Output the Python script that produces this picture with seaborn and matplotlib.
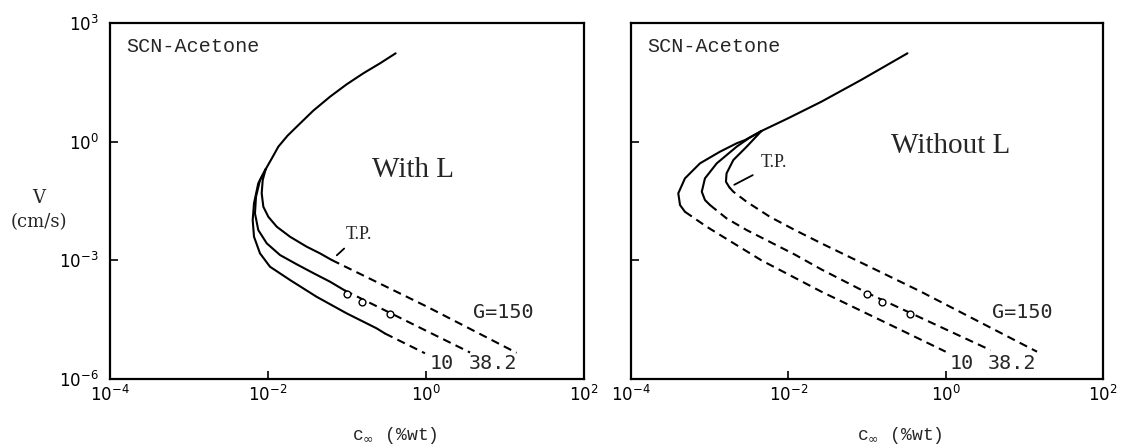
import matplotlib
matplotlib.use("Agg")
import matplotlib.pyplot as plt
from matplotlib.ticker import FixedLocator, NullLocator, LogFormatterMathtext, NullFormatter
import seaborn as sns

# ---------------- data: c_inf (%wt) vs V (cm/s) ----------------
# "With L" panel: branch shared by all gradients (absolute-stability side)
wl_upper_c = [0.413, 0.262, 0.161, 0.0991, 0.0610, 0.0374, 0.0231, 0.01758, 0.0135, 0.0112, 0.00933]
wl_upper_v = [171.4, 95.7, 53.5, 28.2, 13.7, 6.07, 2.39, 1.40, 0.745, 0.380, 0.200]

wl_g150_solid_c = [0.00933, 0.00857, 0.00832, 0.00873, 0.0101, 0.0129, 0.0190, 0.0309, 0.0455, 0.0640]
wl_g150_solid_v = [0.200, 0.107, 0.0494, 0.0226, 0.0126, 0.00708, 0.00395, 0.00221, 0.00150, 0.00102]
wl_g150_dash_c = [0.0640, 1.02, 14.0]
wl_g150_dash_v = [0.00102, 6.8e-5, 4.6e-6]

wl_g38_solid_c = [0.00933, 0.00792, 0.00705, 0.00684, 0.00753, 0.00964, 0.0142, 0.0231, 0.0372, 0.0610, 0.0933]
wl_g38_solid_v = [0.200, 0.107, 0.0406, 0.0154, 0.00583, 0.00269, 0.00136, 0.000794, 0.000479, 0.000288, 0.000174]
wl_g38_dash_c = [0.0933, 3.61]
wl_g38_dash_v = [0.000174, 4.68e-6]

wl_g10_solid_c = [0.00933, 0.00753, 0.00665, 0.00640, 0.00665, 0.00792, 0.0106, 0.0191, 0.0412, 0.0989, 0.237, 0.303]
wl_g10_solid_v = [0.200, 0.0885, 0.0276, 0.0104, 0.00395, 0.00150, 0.000689, 0.000316, 0.000120, 4.57e-5, 1.91e-5, 1.41e-5]
wl_g10_dash_c = [0.303, 0.97]
wl_g10_dash_v = [1.41e-5, 4.47e-6]

# "Without L" panel
wo_upper_c = [0.327, 0.0839, 0.0262, 0.0099, 0.00455]
wo_upper_v = [171.4, 36.2, 10.2, 3.89, 1.86]

wo_g150_solid_c = [0.00455, 0.00295, 0.00200, 0.00164, 0.00161, 0.00178]
wo_g150_solid_v = [1.86, 0.745, 0.344, 0.158, 0.0973, 0.0700]
wo_g150_dash_c = [0.00178, 0.00200, 0.00295, 0.00583, 0.0120, 0.0263, 0.483, 14.5]
wo_g150_dash_v = [0.0700, 0.0543, 0.0303, 0.0126, 0.00589, 0.00269, 0.000162, 4.9e-6]

wo_g38_solid_c = [0.00455, 0.00316, 0.00220, 0.00123, 0.000871, 0.000794, 0.000871, 0.00101]
wo_g38_solid_v = [1.86, 1.23, 0.745, 0.283, 0.118, 0.0543, 0.0335, 0.0250]
wo_g38_dash_c = [0.00101, 0.00164, 0.00295, 0.0120, 0.0263, 0.102, 3.72]
wo_g38_dash_v = [0.0250, 0.0115, 0.00583, 0.00141, 0.000589, 0.000148, 5.37e-6]

wo_g10_solid_c = [0.00455, 0.00282, 0.00220, 0.00135, 0.000753, 0.000485, 0.000399, 0.000420, 0.000485]
wo_g10_solid_v = [1.86, 1.10, 0.908, 0.557, 0.283, 0.118, 0.0494, 0.0250, 0.0169]
wo_g10_dash_c = [0.000485, 0.000916, 0.00455, 0.0262, 0.269, 1.0]
wo_g10_dash_v = [0.0169, 0.00708, 0.001, 0.000162, 1.74e-5, 4.9e-6]

# experimental points (G = 38.2)
exp_c = [0.10, 0.153, 0.35]
exp_v = [1.45e-4, 8.9e-5, 4.5e-5]

# curve labels
g_labels = ["G=150", "10", "38.2"]
g_label_c = [9.5, 1.6, 6.95]
g_label_v = [4.9e-5, 2.45e-6, 2.45e-6]

x_ticks = [1e-4, 1e-2, 1e0, 1e2]
y_ticks = [1e-6, 1e-3, 1e0, 1e3]

# ---------------- styling ----------------
sns.set_theme(style="white")
plt.rcParams["font.family"] = ["DejaVu Sans"]
plt.rcParams["mathtext.fontset"] = "dejavusans"

fig = plt.figure(figsize=(11.25, 4.48), dpi=100)
ax_l = fig.add_axes([110 / 1125, 69 / 448, 474 / 1125, 356 / 448])
ax_r = fig.add_axes([631 / 1125, 69 / 448, 472 / 1125, 356 / 448])

DASH = (0, (4, 2.6))
LW = 1.5


def curve(ax, c, v, dashed=False):
    sns.lineplot(x=c, y=v, ax=ax, sort=False, estimator=None, color="black",
                 linewidth=LW, linestyle=DASH if dashed else "-")


for ax in (ax_l, ax_r):
    ax.set_xscale("log")
    ax.set_yscale("log")
    ax.set_xlim(1e-4, 1e2)
    ax.set_ylim(1e-6, 1e3)

panels = [
    (ax_l, wl_upper_c, wl_upper_v,
     [(wl_g150_solid_c, wl_g150_solid_v, wl_g150_dash_c, wl_g150_dash_v),
      (wl_g38_solid_c, wl_g38_solid_v, wl_g38_dash_c, wl_g38_dash_v),
      (wl_g10_solid_c, wl_g10_solid_v, wl_g10_dash_c, wl_g10_dash_v)]),
    (ax_r, wo_upper_c, wo_upper_v,
     [(wo_g150_solid_c, wo_g150_solid_v, wo_g150_dash_c, wo_g150_dash_v),
      (wo_g38_solid_c, wo_g38_solid_v, wo_g38_dash_c, wo_g38_dash_v),
      (wo_g10_solid_c, wo_g10_solid_v, wo_g10_dash_c, wo_g10_dash_v)]),
]

for ax, up_c, up_v, branches in panels:
    curve(ax, up_c, up_v)
    for sc, sv, dc, dv in branches:
        curve(ax, sc, sv)
        curve(ax, dc, dv, dashed=True)
    sns.scatterplot(x=exp_c, y=exp_v, ax=ax, marker="o", s=24, facecolor="white",
                    edgecolor="black", linewidth=1.0, zorder=4)

    for lab, lc, lv in zip(g_labels, g_label_c, g_label_v):
        ax.text(lc, lv, lab, ha="center", va="center", fontsize=14.5,
                family="DejaVu Sans Mono")
    ax.text(0.034, 0.933, "SCN-Acetone", transform=ax.transAxes, ha="left",
            va="center", fontsize=14.5, family="Liberation Mono")

    ax.xaxis.set_major_locator(FixedLocator(x_ticks))
    ax.yaxis.set_major_locator(FixedLocator(y_ticks))
    ax.xaxis.set_minor_locator(NullLocator())
    ax.yaxis.set_minor_locator(NullLocator())
    ax.xaxis.set_major_formatter(LogFormatterMathtext())
    ax.yaxis.set_major_formatter(LogFormatterMathtext())
    ax.tick_params(axis="both", which="major", direction="in", length=6,
                   width=1.2, color="black", labelsize=12, labelcolor="black",
                   bottom=True, left=True, top=False, right=False)
    ax.tick_params(axis="x", pad=4)
    ax.tick_params(axis="y", pad=8)
    for sp in ax.spines.values():
        sp.set_visible(True)
        sp.set_color("black")
        sp.set_linewidth(1.6)
    ax.set_xlabel(r"c$_{\infty}$ (%wt)", fontsize=13, family="Liberation Mono")
    ax.set_ylabel("")

ax_l.xaxis.set_label_coords(0.60, -0.128)
ax_r.xaxis.set_label_coords(0.57, -0.128)
ax_r.yaxis.set_major_formatter(NullFormatter())

ax_l.set_ylabel("V\n(cm/s)", rotation=0, fontsize=13, family="DejaVu Serif",
                linespacing=1.4, ha="center", va="center")
ax_l.yaxis.set_label_coords(-0.150, 0.475)

ax_l.text(0.639, 0.587, "With L", transform=ax_l.transAxes, ha="center",
          va="center", fontsize=21, family="Liberation Serif")
ax_r.text(0.678, 0.654, "Without L", transform=ax_r.transAxes, ha="center",
          va="center", fontsize=21, family="Liberation Serif")

# turning-point markers
tp_style = dict(arrowstyle="-", color="black", lw=1.3)
ax_l.annotate("T.P.", xy=(wl_g150_solid_c[-1], wl_g150_solid_v[-1]),
              xytext=(0.142, 4.4e-3), ha="center", va="center", fontsize=13,
              family="Liberation Serif",
              arrowprops=dict(tp_style, shrinkA=2, shrinkB=5, relpos=(0.15, 0.0)))
ax_r.annotate("T.P.", xy=(wo_g150_solid_c[-1], wo_g150_solid_v[-1]),
              xytext=(0.0066, 0.30), ha="center", va="center", fontsize=13,
              family="Liberation Serif",
              arrowprops=dict(tp_style, shrinkA=4, shrinkB=4, relpos=(0.0, 0.0)))

fig.savefig("out.png", dpi=100)
